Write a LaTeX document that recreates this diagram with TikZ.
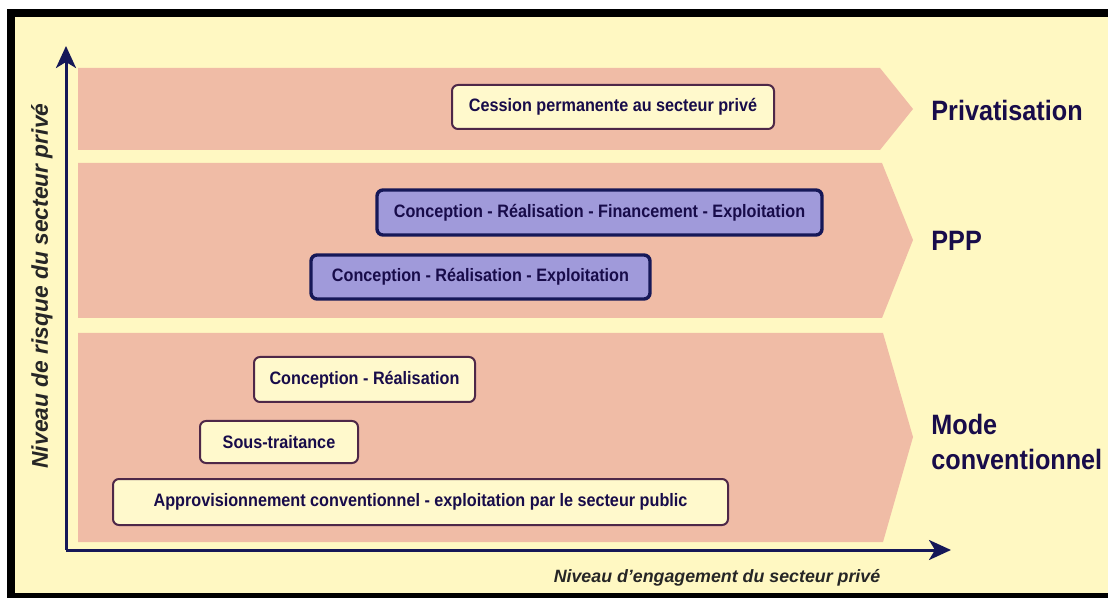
\documentclass[tikz,border=0pt]{standalone}
\usepackage{fontspec}
\setmainfont{Liberation Sans}
\newfontfamily\narrowsf[FakeStretch=0.9]{Liberation Sans}
\usetikzlibrary{arrows.meta}

\definecolor{paper}{RGB}{255,248,194}
\definecolor{salmon}{RGB}{240,188,166}
\definecolor{boxfill}{RGB}{255,249,204}
\definecolor{boxedge}{RGB}{78,40,72}
\definecolor{lavender}{RGB}{160,154,218}
\definecolor{navy}{RGB}{22,24,88}
\definecolor{inkblue}{RGB}{24,12,74}

\begin{document}
\begin{tikzpicture}
  [x=0.5pt,y=-0.5pt,
   every node/.style={inner sep=0pt,text=inkblue},
   plain/.style={draw=boxedge,line width=1pt,fill=boxfill,rounded corners=3pt,
     font=\narrowsf\bfseries\fontsize{9}{10}\selectfont},
   ppp/.style={plain,draw=navy,line width=1.7pt,fill=lavender},
   mode/.style={font=\narrowsf\bfseries\fontsize{14}{17.5}\selectfont,align=left,anchor=west},
   axis/.style={draw=navy,line width=1.5pt,-{Stealth[length=11pt,width=10pt,inset=3pt]}},
   axislabel/.style={font=\bfseries\itshape\fontsize{8.9}{10}\selectfont,text=black!85}]

  % frame and background
  \fill[white] (0,0) rectangle (1108,598);
  \fill[black] (7,9) rectangle (1108,598);
  \fill[paper] (15,17) rectangle (1108,593);

  % bands
  \fill[salmon] (78,68) -- (880,68) -- (913,109) -- (880,150) -- (78,150) -- cycle;
  \fill[salmon] (78,163) -- (882,163) -- (913,240) -- (882,318) -- (78,318) -- cycle;
  \fill[salmon] (78,333) -- (883,333) -- (913,437) -- (883,542) -- (78,542) -- cycle;

  % axes
  \coordinate (o) at (66,550);
  \coordinate (ytop) at (66,46);
  \coordinate (xend) at (951,550);
  \foreach \from/\to in {o/ytop,o/xend}
    \draw[axis] (\from) -- (\to);

  \node[axislabel,rotate=90,font=\bfseries\itshape\fontsize{11.4}{12}\selectfont] (ylab) at (42,286)
    {Niveau de risque du secteur privé};
  \node[axislabel] (xlab) at (717,578) {Niveau d'engagement du secteur privé};

  % boxes
  \node[plain,minimum width=161pt,minimum height=22pt] (cession) at (613,107)
    {Cession permanente au secteur privé};
  \node[ppp,minimum width=222.5pt,minimum height=22.5pt] (crfe) at (599.5,212.5)
    {Conception - Réalisation - Financement - Exploitation};
  \node[ppp,minimum width=169.5pt,minimum height=22pt] (cre) at (480.5,277)
    {Conception - Réalisation - Exploitation};
  \node[plain,minimum width=110.5pt,minimum height=22.5pt] (cr) at (364.5,379.5)
    {Conception - Réalisation};
  \node[plain,minimum width=79pt,minimum height=21pt] (sous) at (279,442)
    {Sous-traitance};
  \node[plain,minimum width=307.5pt,minimum height=23pt] (appro) at (420.5,502)
    {Approvisionnement conventionnel - exploitation par le secteur public};

  % band names
  \node[mode] (priv) at (931,110) {Privatisation};
  \node[mode] (ppplab) at (931,241) {PPP};
  \node[mode] (conv) at (931,442) {Mode\\conventionnel};

\end{tikzpicture}
\end{document}
